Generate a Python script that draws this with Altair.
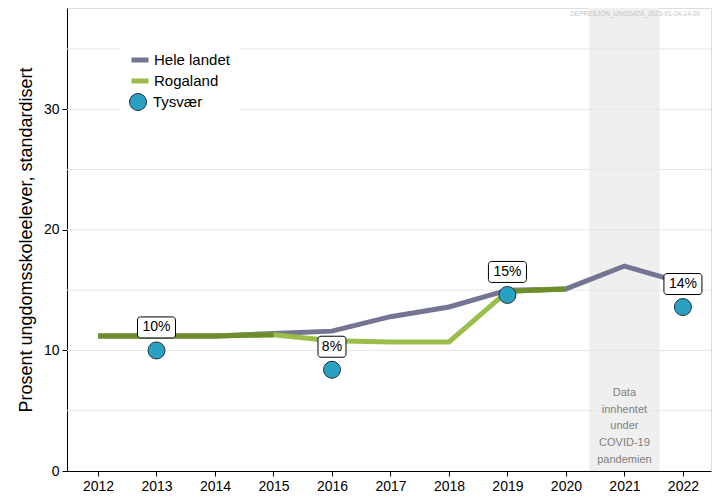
import altair as alt
import pandas as pd

years = list(range(2012, 2023))
hele_landet = [11.2, 11.2, 11.2, 11.4, 11.6, 12.8, 13.6, 15.0, 15.1, 17.0, 15.6]
rogaland_years = list(range(2012, 2021))
rogaland = [11.2, 11.2, 11.2, 11.3, 10.8, 10.7, 10.7, 14.9, 15.1]
tysvaer_years = [2013, 2016, 2019, 2022]
tysvaer = [10.0, 8.4, 14.6, 13.6]
tysvaer_labels = ["10%", "8%", "15%", "14%"]
line_names = ["Hele landet", "Rogaland"]
point_name = "Tysvær"
grid_vals = [5, 10, 15, 20, 25, 30, 35]
covid_start, covid_end = 2020.4, 2021.6
covid_text = ["Data", "innhentet", "under", "COVID-19", "pandemien"]
watermark = "DEPRESJON_UNGDATA_2023-01-04-14-09"

GREY = "#747493"
GREEN = "#9bbd4a"
OLIVE = "#6d8c2c"
TEAL = "#2aa0c2"
FONT = "Liberation Sans"

W, H = 644, 463
xscale = alt.Scale(domain=[2011.47, 2022.48], nice=False, zero=False)
yscale = alt.Scale(domain=[0, 38.4], nice=False)

lines = pd.concat([
    pd.DataFrame({"year": years, "value": hele_landet, "series": line_names[0]}),
    pd.DataFrame({"year": rogaland_years, "value": rogaland, "series": line_names[1]}),
])
# overlap segments where the two series coincide
hl_map = dict(zip(years, hele_landet))
ov_vals = [v if abs(v - hl_map[y]) <= 0.15 else None for y, v in zip(rogaland_years, rogaland)]
ov = pd.DataFrame({"year": rogaland_years, "value": ov_vals})
ty = pd.DataFrame({"year": tysvaer_years, "value": tysvaer, "label": tysvaer_labels,
                   "series": point_name})
gr = pd.DataFrame({"g": grid_vals})
cv = pd.DataFrame({"x": [covid_start], "x2": [covid_end], "mid": [(covid_start + covid_end) / 2],
                   "txt": [covid_text]})

X = alt.X("year:Q", scale=xscale, title=None,
          axis=alt.Axis(values=years, format="d", grid=False, labelFontSize=14,
                        labelColor="black", tickColor="black", domainColor="black",
                        tickSize=5, labelPadding=3, labelFont=FONT))
Y = alt.Y("value:Q", scale=yscale, title="Prosent ungdomsskoleelever, standardisert",
          axis=alt.Axis(values=[0, 10, 20, 30], grid=False, labelFontSize=14,
                        labelColor="black", tickColor="black", domainColor="black",
                        tickSize=5, labelPadding=3, titleFontSize=18,
                        titleFontWeight="normal", titleColor="black", titlePadding=8,
                        labelFont=FONT, titleFont=FONT))
Xs = alt.X("year:Q", scale=xscale)
Ys = alt.Y("value:Q", scale=yscale)

band = alt.Chart(cv).mark_rect(color="#efefef").encode(
    x=alt.X("x:Q", scale=xscale), x2="x2:Q", y=alt.value(0), y2=alt.value(H))

grid = alt.Chart(gr).mark_rule(color="#e6e6e6", strokeWidth=1).encode(
    y=alt.Y("g:Q", scale=yscale))

# white background behind the legend
legend_bg = alt.Chart(pd.DataFrame({"a": [0]})).mark_rect(color="white").encode(
    x=alt.value(53), x2=alt.value(173), y=alt.value(37), y2=alt.value(107))

covid_lbl = alt.Chart(cv).mark_text(fontSize=11, color="#808080", lineHeight=16.7,
                                    baseline="middle", font=FONT).encode(
    x=alt.X("mid:Q", scale=xscale), y=alt.datum(6.47), text="txt")

leg_common = dict(title=None, orient="none", padding=0,
                  labelFontSize=15, labelColor="black", labelFont=FONT,
                  symbolSize=289, rowPadding=0)

line_layer = alt.Chart(lines).mark_line(strokeWidth=5, strokeCap="butt").encode(
    x=X, y=Y,
    stroke=alt.Stroke("series:N", scale=alt.Scale(domain=line_names, range=[GREY, GREEN]),
                      legend=alt.Legend(legendX=62, legendY=41, symbolType="stroke",
                                        symbolStrokeWidth=5, labelOffset=3, **leg_common)))
line_ov = alt.Chart(ov).mark_line(color=OLIVE, strokeWidth=5, strokeCap="butt").encode(
    x=Xs, y=Ys)

pts = alt.Chart(ty).mark_point(filled=True, stroke="#1c3440", strokeWidth=1,
                               size=289, opacity=1).encode(
    x=Xs, y=Ys,
    fill=alt.Fill("series:N", scale=alt.Scale(domain=[point_name], range=[TEAL]),
                  legend=alt.Legend(legendX=62, legendY=85, symbolType="circle",
                                    symbolStrokeColor="#1c3440", symbolStrokeWidth=1,
                                    symbolOpacity=1, labelOffset=6, **leg_common)))

box3 = alt.Chart(ty).transform_filter("length(datum.label) == 3").mark_rect(
    width=38, height=21, fill="white", stroke="black", strokeWidth=1, cornerRadius=3,
    yOffset=-23).encode(x=Xs, y=Ys)
box2 = alt.Chart(ty).transform_filter("length(datum.label) == 2").mark_rect(
    width=28, height=21, fill="white", stroke="black", strokeWidth=1, cornerRadius=3,
    yOffset=-23).encode(x=Xs, y=Ys)
txt = alt.Chart(ty).mark_text(fontSize=14, color="black", yOffset=-23, baseline="middle",
                              font=FONT).encode(x=Xs, y=Ys, text="label:N")

wm = alt.Chart(pd.DataFrame({"t": [watermark]})).mark_text(
    fontSize=6.5, color="#c4c4c4", align="right", baseline="middle", font=FONT).encode(
    x=alt.value(633), y=alt.value(6), text="t:N")

chart = alt.layer(band, grid, legend_bg, covid_lbl, line_layer, line_ov, pts, box3, box2, txt,
                  wm).resolve_legend(stroke="independent", fill="independent").properties(
    width=W, height=H, autosize=alt.AutoSizeParams(type="none"),
    padding={"left": 59, "top": 0, "right": 1, "bottom": 28},
).configure_view(stroke="black", strokeWidth=1).configure(background="white")

chart.save("out.html", embed_options={"renderer": "svg", "actions": False})
